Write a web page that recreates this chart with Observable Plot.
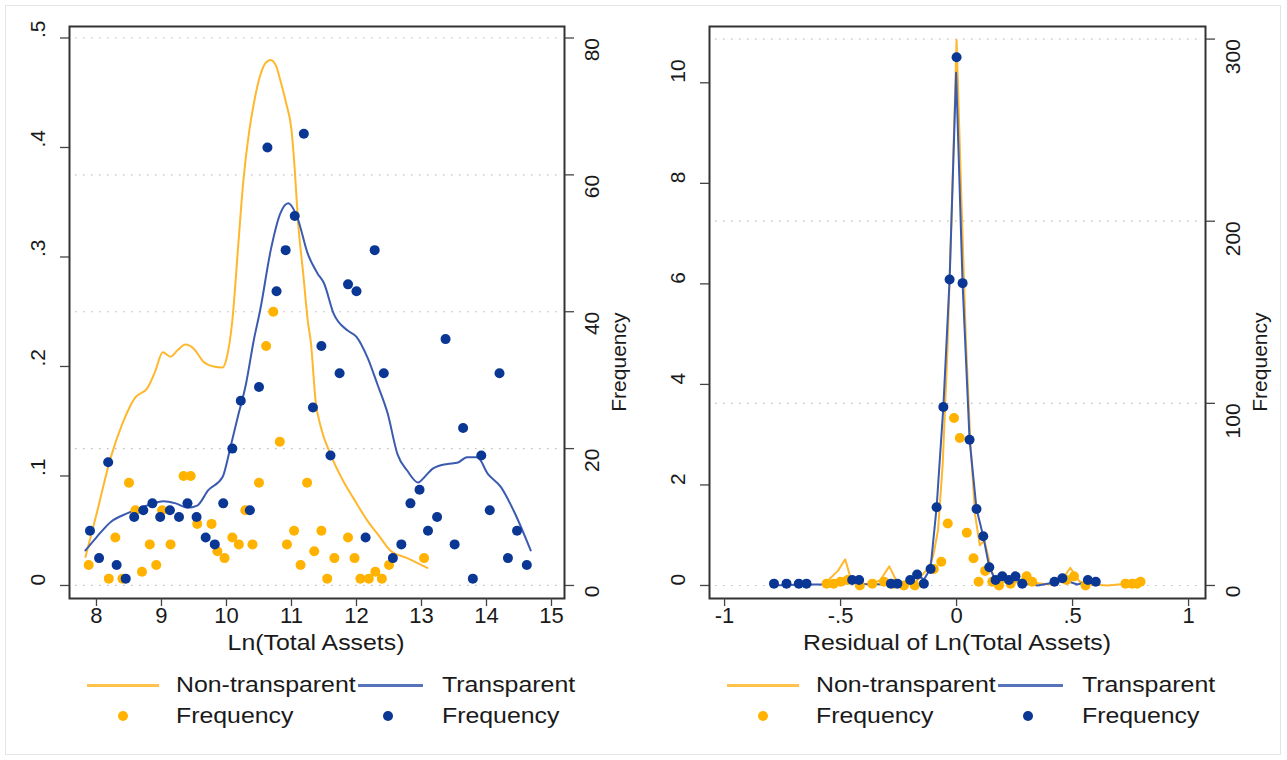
<!DOCTYPE html>
<html><head><meta charset="utf-8">
<script src="https://cdn.jsdelivr.net/npm/d3@7"></script>
<script src="https://cdn.jsdelivr.net/npm/@observablehq/plot@0.6"></script>
<style>
body{margin:0;background:#fff;font-family:"Liberation Sans",Arial,sans-serif;}
#wrap{position:relative;width:1287px;height:760px;overflow:hidden;background:#fff}
#border{position:absolute;left:5px;top:5px;width:1276px;height:750px;border:1px solid #e4e4e4;box-sizing:border-box}
.panel{position:absolute;top:0}
.t{position:absolute;font-size:22px;line-height:22px;color:#1a1a1a;white-space:nowrap}
.leg{transform-origin:left center;transform:translateY(-50%) scaleX(1.13)}
.ttl{transform:translate(-50%,-50%) scaleX(1.13)}
.ln{position:absolute;height:3px;margin-top:-1.5px}
.dt{position:absolute;width:10px;height:10px;border-radius:50%;margin:-5px 0 0 -5px}
</style></head>
<body><div id="wrap"><div id="border"></div></div>
<script>
// ---------- Left panel: Ln(Total Assets) ----------
const lnNtLineX = [7.83, 8.0, 8.22, 8.4, 8.6, 8.78, 8.9, 9.02, 9.14, 9.25, 9.37, 9.5, 9.65, 9.8, 9.94, 10.0, 10.09, 10.18, 10.26, 10.35, 10.42, 10.52, 10.6, 10.68, 10.76, 10.83, 10.92, 11.0, 11.05, 11.1, 11.18, 11.25, 11.3, 11.37, 11.45, 11.6, 11.8, 11.95, 12.17, 12.35, 12.52, 12.78, 13.09];
const lnNtLineD = [0.026, 0.065, 0.117, 0.148, 0.172, 0.18, 0.195, 0.213, 0.209, 0.215, 0.22, 0.216, 0.204, 0.2, 0.199, 0.207, 0.242, 0.31, 0.37, 0.415, 0.44, 0.466, 0.477, 0.48, 0.475, 0.461, 0.44, 0.416, 0.38, 0.333, 0.285, 0.242, 0.221, 0.169, 0.145, 0.12, 0.095, 0.08, 0.059, 0.045, 0.032, 0.025, 0.016];
const lnTLineX = [7.83, 8.0, 8.22, 8.48, 8.78, 9.03, 9.22, 9.4, 9.55, 9.72, 9.94, 10.06, 10.17, 10.3, 10.42, 10.52, 10.68, 10.83, 10.95, 11.09, 11.25, 11.4, 11.5, 11.65, 11.86, 12.0, 12.17, 12.32, 12.48, 12.63, 12.78, 12.95, 13.03, 13.18, 13.4, 13.55, 13.7, 13.86, 14.02, 14.22, 14.42, 14.68];
const lnTLineD = [0.032, 0.044, 0.058, 0.066, 0.073, 0.077, 0.075, 0.071, 0.073, 0.087, 0.099, 0.126, 0.153, 0.184, 0.224, 0.252, 0.306, 0.34, 0.349, 0.336, 0.303, 0.285, 0.276, 0.248, 0.233, 0.227, 0.208, 0.184, 0.157, 0.12, 0.105, 0.094, 0.098, 0.107, 0.111, 0.112, 0.117, 0.117, 0.102, 0.09, 0.068, 0.032];
const lnNtFreqX = [7.88, 8.19, 8.29, 8.4, 8.5, 8.6, 8.7, 8.82, 8.92, 9.01, 9.14, 9.34, 9.45, 9.55, 9.77, 9.86, 9.97, 10.09, 10.19, 10.29, 10.4, 10.5, 10.61, 10.72, 10.82, 10.93, 11.04, 11.14, 11.24, 11.35, 11.46, 11.55, 11.66, 11.87, 11.97, 12.06, 12.19, 12.29, 12.39, 12.5, 13.04];
const lnNtFreq = [3, 1, 7, 1, 15, 11, 2, 6, 3, 11, 6, 16, 16, 9, 9, 5, 4, 7, 6, 11, 6, 15, 35, 40, 21, 6, 8, 3, 15, 5, 8, 1, 4, 7, 4, 1, 1, 2, 1, 3, 4];
const lnTFreqX = [7.9, 8.04, 8.18, 8.31, 8.45, 8.58, 8.72, 8.86, 8.98, 9.13, 9.27, 9.4, 9.54, 9.68, 9.82, 9.95, 10.09, 10.22, 10.36, 10.5, 10.63, 10.77, 10.91, 11.05, 11.19, 11.33, 11.46, 11.6, 11.74, 11.87, 12.0, 12.14, 12.28, 12.42, 12.56, 12.69, 12.83, 12.97, 13.1, 13.24, 13.37, 13.51, 13.64, 13.79, 13.92, 14.05, 14.2, 14.33, 14.47, 14.62];
const lnTFreq = [8, 4, 18, 3, 1, 10, 11, 12, 10, 11, 10, 12, 10, 7, 6, 12, 20, 27, 11, 29, 64, 43, 49, 54, 66, 26, 35, 19, 31, 44, 43, 7, 49, 31, 4, 6, 12, 14, 8, 10, 36, 6, 23, 1, 19, 11, 31, 4, 8, 3];
const lnXTicks = [8, 9, 10, 11, 12, 13, 14, 15];
const lnXLabels = ["8", "9", "10", "11", "12", "13", "14", "15"];
const lnDensTicks = [0, 0.1, 0.2, 0.3, 0.4, 0.5];
const lnDensLabels = ["0", ".1", ".2", ".3", ".4", ".5"];
const lnFreqTicks = [0, 20, 40, 60, 80];
const lnFreqPerDensity = 160;

// ---------- Right panel: Residual of Ln(Total Assets) ----------
const resNtLineX = [-0.58, -0.55, -0.51, -0.48, -0.46, -0.43, -0.38, -0.33, -0.29, -0.26, -0.22, -0.18, -0.15, -0.12, -0.1, -0.08, -0.06, -0.04, -0.02, 0.0, 0.02, 0.04, 0.06, 0.08, 0.1, 0.12, 0.14, 0.16, 0.19, 0.23, 0.27, 0.3, 0.34, 0.4, 0.45, 0.49, 0.53, 0.58, 0.65, 0.72, 0.76, 0.8];
const resNtLineD = [0.02, 0.12, 0.3, 0.52, 0.2, 0.06, 0.02, 0.1, 0.38, 0.1, 0.03, 0.05, 0.2, 0.35, 0.6, 1.1, 2.4, 4.6, 7.6, 10.85, 7.8, 4.9, 2.8, 1.4, 0.8, 0.9, 0.5, 0.15, 0.05, 0.1, 0.05, 0.25, 0.05, 0.02, 0.08, 0.35, 0.08, 0.02, 0.0, 0.03, 0.05, 0.05];
const resTLineX = [-0.8, -0.65, -0.5, -0.45, -0.4, -0.3, -0.25, -0.2, -0.17, -0.14, -0.112, -0.086, -0.057, -0.03, -0.002, 0.026, 0.056, 0.086, 0.115, 0.141, 0.168, 0.2, 0.25, 0.3, 0.35, 0.42, 0.46, 0.52, 0.57, 0.6];
const resTLineD = [0.0, 0.02, 0.02, 0.08, 0.03, 0.02, 0.04, 0.1, 0.2, 0.12, 0.35, 1.56, 3.55, 6.09, 10.2, 6.0, 2.9, 1.52, 0.98, 0.36, 0.11, 0.15, 0.15, 0.04, 0.0, 0.06, 0.12, 0.02, 0.08, 0.02];
const resNtFreqX = [-0.56, -0.53, -0.5, -0.47, -0.417, -0.363, -0.313, -0.27, -0.227, -0.18, -0.098, -0.066, -0.038, -0.011, 0.014, 0.044, 0.073, 0.095, 0.123, 0.154, 0.183, 0.233, 0.302, 0.326, 0.474, 0.506, 0.556, 0.728, 0.757, 0.778, 0.793];
const resNtFreq = [1, 1, 2, 3, 0, 1, 2, 1, 0, 0, 9, 13, 34, 92, 81, 29, 15, 2, 8, 2, 0, 1, 5, 2, 3, 5, 0, 1, 1, 1, 2];
const resTFreqX = [-0.787, -0.733, -0.68, -0.647, -0.45, -0.42, -0.283, -0.255, -0.2, -0.17, -0.141, -0.112, -0.086, -0.057, -0.03, 0.0, 0.026, 0.056, 0.086, 0.115, 0.141, 0.168, 0.197, 0.226, 0.254, 0.283, 0.422, 0.456, 0.566, 0.6];
const resTFreq = [1, 1, 1, 1, 3, 3, 1, 1, 3, 6, 1, 9, 43, 98, 168, 290, 166, 80, 42, 27, 10, 3, 5, 3, 5, 1, 2, 4, 3, 2];
const resXTicks = [-1, -0.5, 0, 0.5, 1];
const resXLabels = ["-1", "-.5", "0", ".5", "1"];
const resDensTicks = [0, 2, 4, 6, 8, 10];
const resDensLabels = ["0", "2", "4", "6", "8", "10"];
const resFreqTicks = [0, 100, 200, 300];
const resFreqPerDensity = 27.6;

const ORANGE_LINE = "#FFB72E", ORANGE_DOT = "#FFB300";
const BLUE_LINE = "#3A5BB0", BLUE_DOT = "#0A3794";

const zip = (xs, ys, key) => xs.map((x, i) => ({x, [key]: ys[i]}));

function panel(o) {
  const k = o.k;
  const curve = o.curve;
  return Plot.plot({
    width: o.width, height: 660,
    marginLeft: 69, marginRight: o.width - o.frameRight, marginTop: 26, marginBottom: 62,
    x: {domain: o.xDomain, label: null}, y: {domain: o.yDomain, label: null},
    style: {fontFamily: "'Liberation Sans', Arial, sans-serif", fontSize: "21px", color: "#1a1a1a", background: "transparent", overflow: "visible"},
    marks: [
      Plot.ruleY(o.fTicks, {y: f => f / k, stroke: "#bdbdbd", strokeWidth: 1.2, strokeDasharray: "1.5,6.5", insetLeft: 6, insetRight: 6}),
      Plot.line(zip(o.ntX, o.ntD, "d"), {x: "x", y: "d", stroke: ORANGE_LINE, strokeWidth: 2, curve}),
      Plot.line(zip(o.tX, o.tD, "d"), {x: "x", y: "d", stroke: BLUE_LINE, strokeWidth: 2, curve}),
      Plot.dot(zip(o.ntFX, o.ntF, "f"), {x: "x", y: d => d.f / k, r: 5, fill: ORANGE_DOT, stroke: "none"}),
      Plot.dot(zip(o.tFX, o.tF, "f"), {x: "x", y: d => d.f / k, r: 5, fill: BLUE_DOT, stroke: "none"}),
      Plot.frame({stroke: "#333", strokeWidth: 2}),
      Plot.axisY({ticks: o.yTicks, tickSize: 9, tickFormat: () => "", label: null, stroke: "#444", strokeWidth: 1.3}),
      Plot.axisY({anchor: "right", ticks: o.fTicks.map(f => f / k), tickSize: 9, tickFormat: () => "", label: null, stroke: "#444", strokeWidth: 1.3}),
      Plot.axisX({ticks: o.xTicks, tickSize: 8, tickFormat: () => "", label: null, stroke: "#444", strokeWidth: 1.3}),
      Plot.text(o.yTicks, {y: d => d, frameAnchor: "left", dx: -31, rotate: -90, text: (d, i) => o.yLabels[i], fontSize: 21}),
      Plot.text(o.fTicks, {y: d => d / k, frameAnchor: "right", dx: 28, rotate: -90, text: d => String(d), fontSize: 21}),
      Plot.text(o.xTicks, {x: d => d, frameAnchor: "bottom", dy: 24, text: (d, i) => o.xLabels[i], fontSize: 22}),
      Plot.text(["Frequency"], {frameAnchor: "right", dx: 55, rotate: -90, text: d => d, fontSize: 21})
    ]
  });
}

const wrap = document.getElementById("wrap");

const left = panel({
  width: 640, frameRight: 564, k: lnFreqPerDensity, curve: "monotone-x",
  xDomain: [7.585, 15.2], yDomain: [-0.0119, 0.5105],
  xTicks: lnXTicks, xLabels: lnXLabels, yTicks: lnDensTicks, yLabels: lnDensLabels, fTicks: lnFreqTicks,
  ntX: lnNtLineX, ntD: lnNtLineD, tX: lnTLineX, tD: lnTLineD,
  ntFX: lnNtFreqX, ntF: lnNtFreq, tFX: lnTFreqX, tF: lnTFreq
});
left.classList.add("panel"); left.style.left = "0px";
wrap.appendChild(left);

const right = panel({
  width: 647, frameRight: 565, k: resFreqPerDensity, curve: "linear",
  xDomain: [-1.065, 1.073], yDomain: [-0.259, 11.12],
  xTicks: resXTicks, xLabels: resXLabels, yTicks: resDensTicks, yLabels: resDensLabels, fTicks: resFreqTicks,
  ntX: resNtLineX, ntD: resNtLineD, tX: resTLineX, tD: resTLineD,
  ntFX: resNtFreqX, ntF: resNtFreq, tFX: resTFreqX, tF: resTFreq
});
right.classList.add("panel"); right.style.left = "640px";
wrap.appendChild(right);

// ---------- titles and legends (HTML) ----------
function addText(txt, x, y, cls) {
  const d = document.createElement("div");
  d.className = "t " + cls; d.textContent = txt;
  d.style.left = x + "px"; d.style.top = y + "px";
  wrap.appendChild(d);
}
function addLine(x1, x2, y, color) {
  const d = document.createElement("div");
  d.className = "ln"; d.style.left = x1 + "px"; d.style.width = (x2 - x1) + "px";
  d.style.top = y + "px"; d.style.background = color; d.style.opacity = 0.85;
  wrap.appendChild(d);
}
function addDot(x, y, color) {
  const d = document.createElement("div");
  d.className = "dt"; d.style.left = x + "px"; d.style.top = y + "px"; d.style.background = color;
  wrap.appendChild(d);
}
const xTitles = ["Ln(Total Assets)", "Residual of Ln(Total Assets)"];
const legendLabels = ["Non-transparent", "Transparent", "Frequency", "Frequency"];
[0, 640].forEach((off, p) => {
  addText(xTitles[p], [316, 957][p], 643, "ttl");
  addLine(off + 87, off + 159, 685, ORANGE_LINE);
  addLine(off + 358, off + 423, 685, BLUE_LINE);
  addText(legendLabels[0], off + 176, 685, "leg");
  addText(legendLabels[1], off + 442, 685, "leg");
  addDot(off + 123, 716, ORANGE_DOT);
  addDot(off + 388, 716, BLUE_DOT);
  addText(legendLabels[2], off + 176, 716, "leg");
  addText(legendLabels[3], off + 442, 716, "leg");
});
</script>
</body></html>
